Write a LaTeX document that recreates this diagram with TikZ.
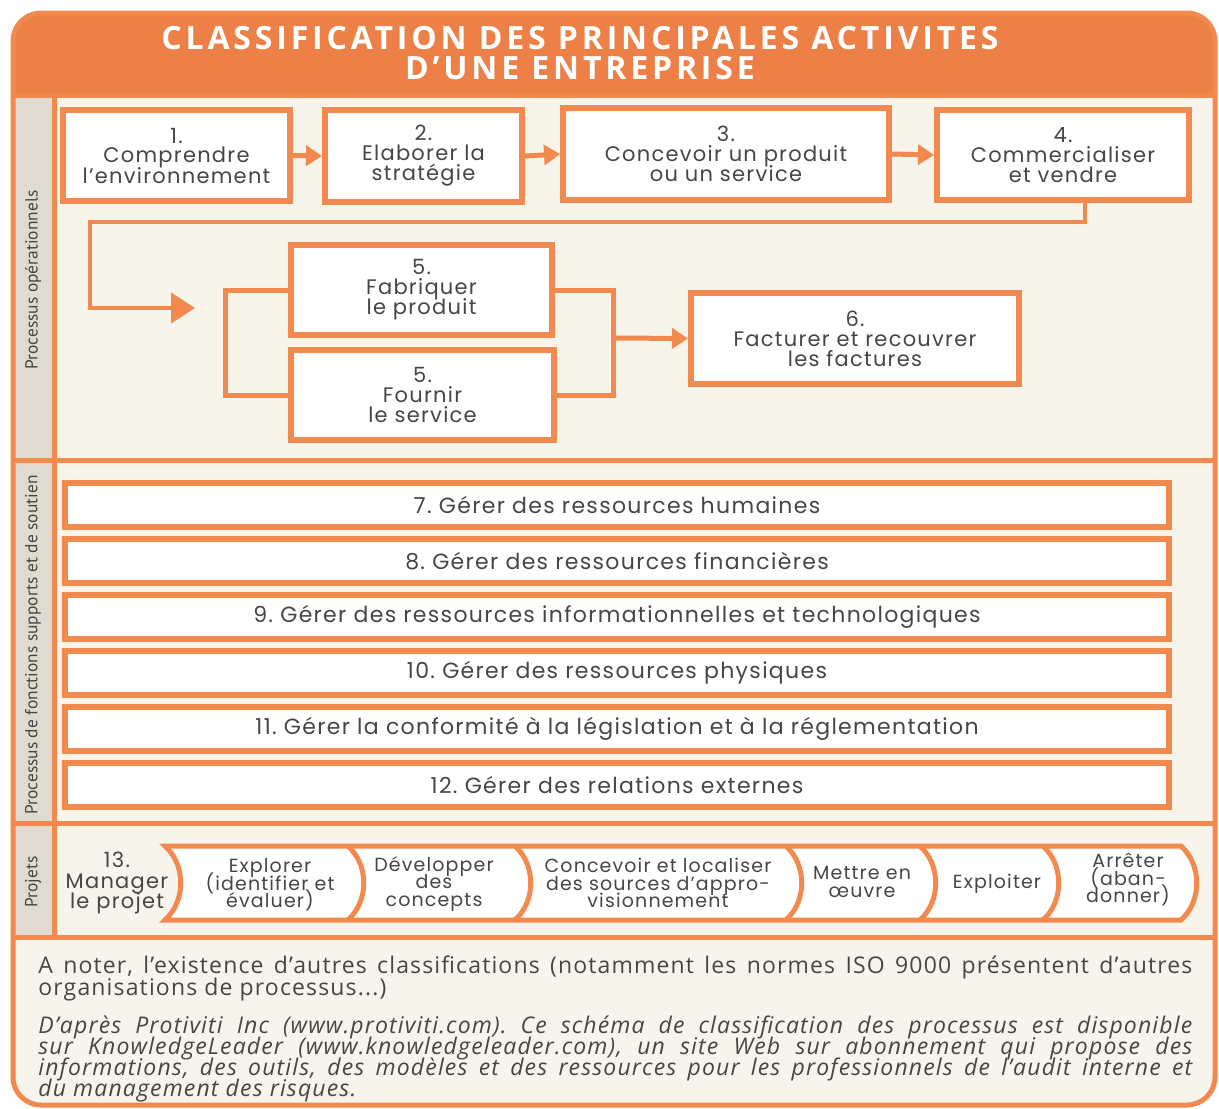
\documentclass[tikz,border=0pt]{standalone}
\usepackage{fontspec}
\setmainfont{PT Sans}
\newfontfamily\boxfont{Poppins}[LetterSpace=6]
\newfontfamily\notefont{Open Sans}[LetterSpace=5]
\newfontfamily\titlefont{Open Sans}[LetterSpace=12]
\usetikzlibrary{arrows.meta}

\definecolor{orangecard}{RGB}{236,128,70}
\definecolor{orangeline}{RGB}{242,138,80}
\definecolor{cardbg}{RGB}{247,244,236}
\definecolor{stripbg}{RGB}{224,219,209}
\definecolor{inktext}{RGB}{72,70,68}

\lineskiplimit=-50pt
\frenchspacing

\tikzset{
  procbox/.style={draw=orangeline, line width=3pt, fill=white, align=center,
    text=inktext, font=\boxfont\fontsize{10.5}{10}\selectfont, inner sep=2pt},
  barbox/.style={procbox, font=\boxfont\fontsize{11}{11}\selectfont,
    minimum width=552pt, minimum height=22pt},
  phasetext/.style={align=center, text=inktext, font=\boxfont\fontsize{9.5}{8.8}\selectfont},
  flow/.style={draw=orangeline, line width=2.5pt},
  flowarrow/.style={flow, -{Triangle[length=8pt,width=10pt]}},
  sidelabel/.style={rotate=90, text=inktext, font=\fontsize{8.7}{10}\selectfont},
  sepline/.style={draw=orangeline, line width=2.5pt},
  notetext/.style={anchor=north west, align=left, inner sep=0pt, text=inktext}
}

\begin{document}
\begin{tikzpicture}[x=0.5pt,y=-0.5pt]

\useasboundingbox (0,0) rectangle (1219,1108);
\fill[white] (0,0) rectangle (1219,1108);

% card
\begin{scope}
\clip[rounded corners=14pt] (13,13) rectangle (1215,1105);
\fill[cardbg] (13,13) rectangle (1215,1105);
\fill[orangecard] (13,13) rectangle (1215,95);
\fill[stripbg] (13,95) rectangle (54,937);
\end{scope}
\draw[orangeline, line width=2.5pt, rounded corners=14pt] (13,13) rectangle (1215,1105);

\draw[sepline] (13,95)--(1215,95);
\draw[sepline] (13,460)--(1215,460);
\draw[sepline] (13,823)--(1215,823);
\draw[sepline] (13,937)--(1215,937);
\draw[sepline] (54,95)--(54,937);

\node[align=center, text=white, font=\titlefont\bfseries\fontsize{16}{15}\selectfont] (title) at (580,53)
{CLASSIFICATION DES PRINCIPALES ACTIVITES\\D’UNE ENTREPRISE};

\node[sidelabel] (lblop) at (33,280) {Processus opérationnels};
\node[sidelabel] (lblsup) at (33,645) {Processus de fonctions supports et de soutien};
\node[sidelabel] (lblproj) at (33,882) {Projets};

% processus operationnels
\node[procbox, minimum width=113.5pt, minimum height=45.5pt] (comprendre) at (176.5,155.5)
{1.\\Comprendre\\l’environnement};
\node[procbox, minimum width=98.5pt, minimum height=46pt] (elaborer) at (423.5,156)
{2.\\Elaborer la\\stratégie};
\node[procbox, minimum width=163pt, minimum height=46pt] (concevoir) at (726,154)
{3.\\Concevoir un produit\\ou un service};
\node[procbox, minimum width=126pt, minimum height=45pt] (commercialiser) at (1063,155)
{4.\\Commercialiser\\et vendre};

\draw[flowarrow] (comprendre.east)--(elaborer.west);
\draw[flowarrow] (elaborer.east)--(concevoir.west);
\draw[flowarrow] (concevoir.east)--(commercialiser.west);

\node[procbox, minimum width=130.5pt, minimum height=45pt] (fabriquer) at (421.5,290)
{5.\\Fabriquer\\le produit};
\node[procbox, minimum width=131.5pt, minimum height=45pt] (fournir) at (422.5,395)
{5.\\Fournir\\le service};
\node[procbox, minimum width=164pt, minimum height=45.5pt] (facturer) at (855,338.5)
{6.\\Facturer et recouvrer\\les factures};

\coordinate (loopR) at (1085,222);
\coordinate (loopL) at (90,222);
\coordinate (loopB) at (90,308);
\coordinate (loopEnd) at (195,308);
\draw[flow, line width=2.2pt, -{Triangle[length=12pt,width=15pt]}]
  (commercialiser.south -| loopR)--(loopR)--(loopL)--(loopB)--(loopEnd);

\coordinate (joinL) at (225,338);
\draw[flow] (fabriquer.west) -| (joinL) |- (fournir.west);
\coordinate (joinR) at (613,338);
\draw[flow] (fabriquer.east) -| (joinR) |- (fournir.east);
\draw[flowarrow] (joinR)--(facturer.west);

% fonctions supports
\node[barbox] (rh) at (617,505) {7. Gérer des ressources humaines};
\node[barbox] (fin) at (617,561) {8. Gérer des ressources financières};
\node[barbox] (info) at (617,617) {9. Gérer des ressources informationnelles et technologiques};
\node[barbox] (phys) at (617,673) {10. Gérer des ressources physiques};
\node[barbox] (conf) at (617,729) {11. Gérer la conformité à la législation et à la réglementation};
\node[barbox] (ext) at (617,785) {12. Gérer des relations externes};

% projets
\path[fill=white, draw=orangeline, line width=2.5pt]
  (165,846)--(1181,846) .. controls (1202,865) and (1202,901) .. (1181,920)
  --(165,920) .. controls (186,901) and (186,865) .. (165,846)--cycle;
\draw[flow] (348,846) .. controls (369,865) and (369,901) .. (348,920);
\draw[flow] (515,846) .. controls (536,865) and (536,901) .. (515,920);
\draw[flow] (786,846) .. controls (807,865) and (807,901) .. (786,920);
\draw[flow] (920,846) .. controls (941,865) and (941,901) .. (920,920);
\draw[flow] (1043,846) .. controls (1064,865) and (1064,901) .. (1043,920);

\node[phasetext, font=\boxfont\fontsize{10.5}{10.3}\selectfont] (manager) at (117,883) {13.\\Manager\\le projet};
\node[phasetext] (explorer) at (270,885) {Explorer\\(identifier et\\évaluer)};
\node[phasetext] (developper) at (434,884) {Développer\\des\\concepts};
\node[phasetext] (sources) at (658,883) {Concevoir et localiser\\des sources d’appro-\\visionnement};
\node[phasetext] (oeuvre) at (862,882) {Mettre en\\œuvre};
\node[phasetext] (exploiter) at (997,884) {Exploiter};
\node[phasetext] (arreter) at (1128,880) {Arrêter\\(aban-\\donner)};

% notes
\node[notetext, font=\notefont\fontsize{11.5}{11}\selectfont] (noter) at (38,955)
{\makebox[577pt][s]{A noter, l’existence d’autres classifications (notamment les normes ISO 9000 présentent d’autres}\\
organisations de processus...)};
\node[notetext, font=\notefont\itshape\fontsize{11.5}{10.5}\selectfont] (source) at (38,1015)
{\makebox[577pt][s]{D’après Protiviti Inc (www.protiviti.com). Ce schéma de classification des processus est disponible}\\
\makebox[577pt][s]{sur KnowledgeLeader (www.knowledgeleader.com), un site Web sur abonnement qui propose des}\\
\makebox[577pt][s]{informations, des outils, des modèles et des ressources pour les professionnels de l’audit interne et}\\
du management des risques.};

\end{tikzpicture}
\end{document}
